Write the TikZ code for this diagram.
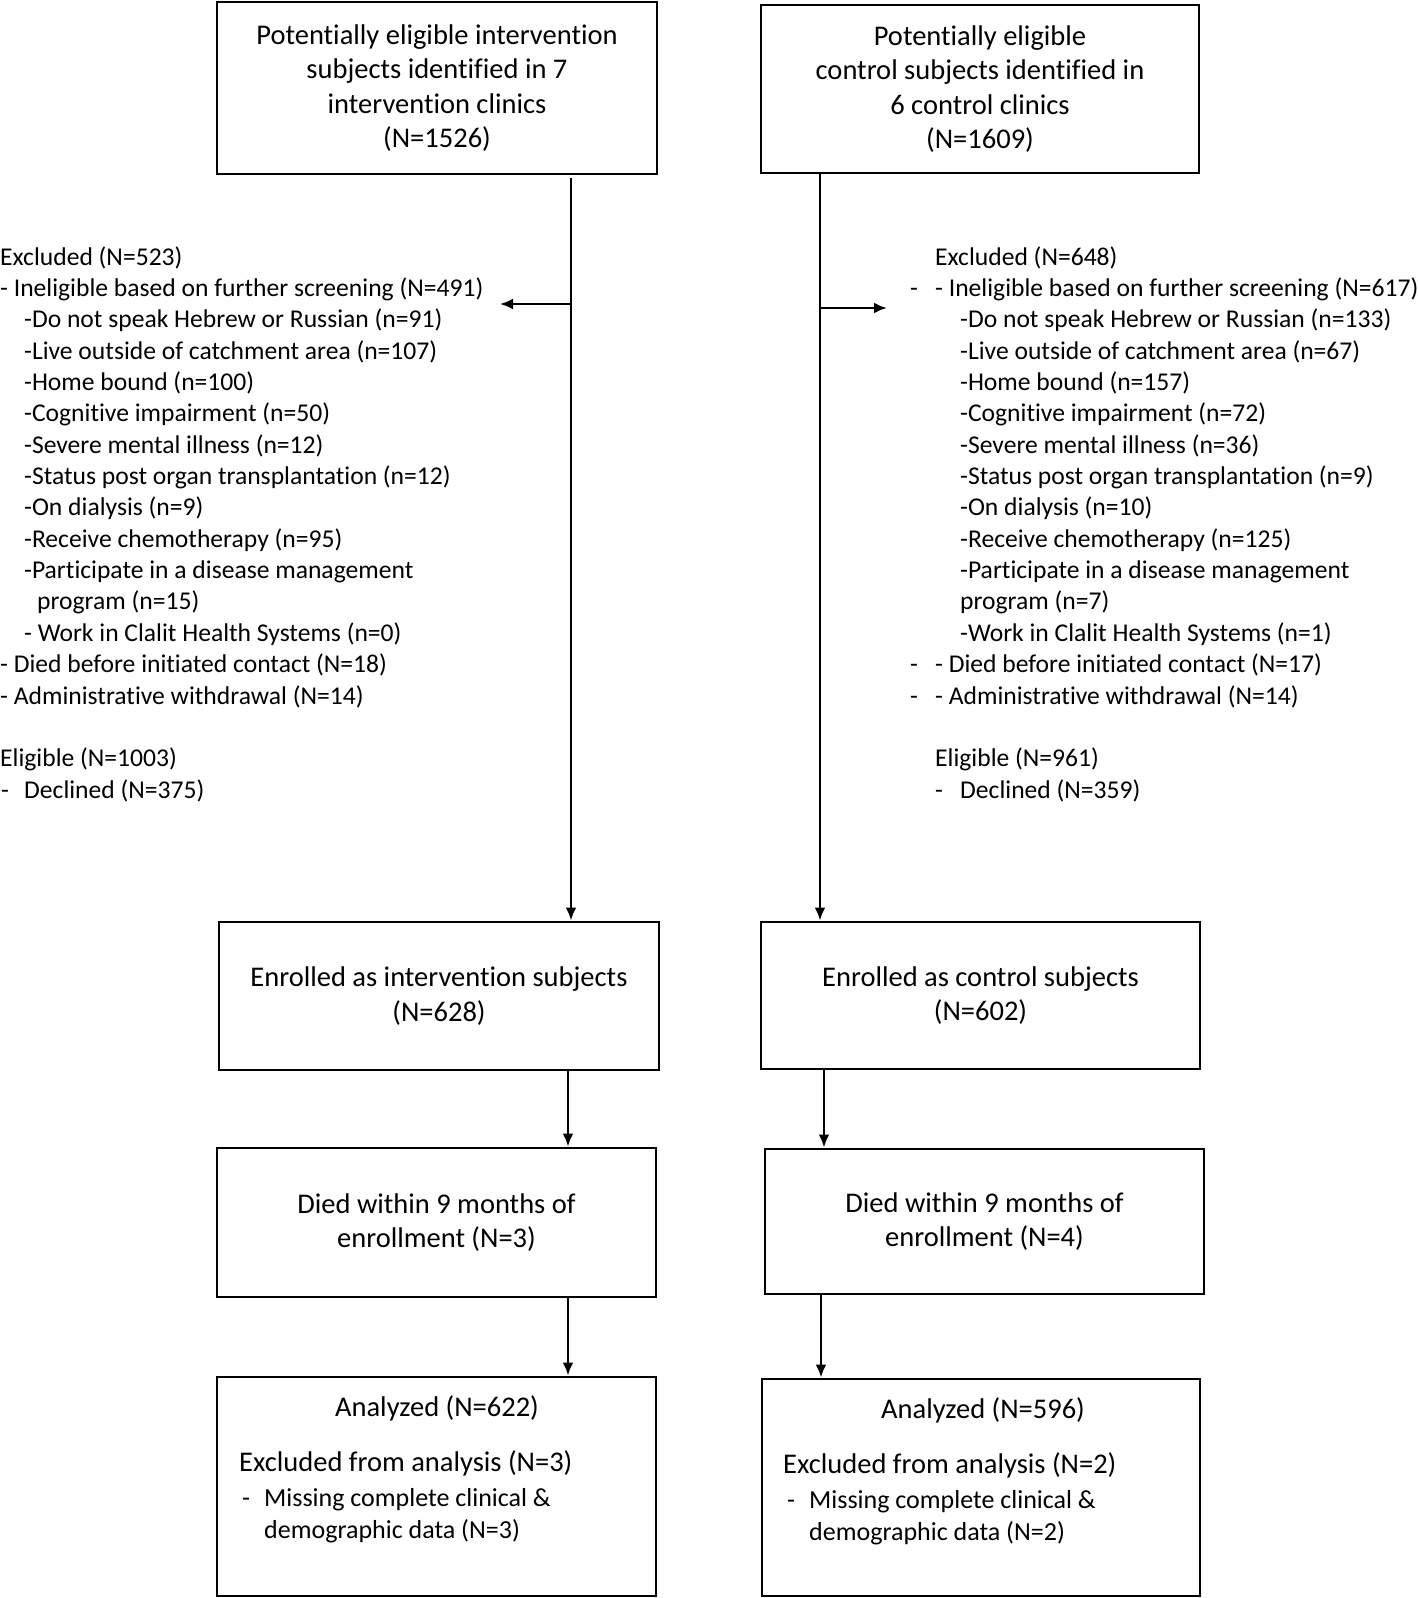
\documentclass[tikz,border=0pt]{standalone}
\usepackage{fontspec}
\setmainfont{Carlito}[Ligatures=CommonOff]
\usetikzlibrary{arrows.meta}
\newcommand\lstfont{\fontsize{25.6}{31.36}\selectfont}
\newcommand\smfont{\fontsize{26}{31.36}\selectfont}
\newcommand\boxfont{\fontsize{28.5}{34.6}\selectfont}
\begin{document}
\begin{tikzpicture}[x=1pt,y=-1pt,
  box/.style={draw, line width=2.9pt, inner sep=0pt, align=center, font=\boxfont},
  lst/.style={anchor=base west, inner sep=0pt, font=\lstfont},
  inb/.style={anchor=base west, inner sep=0pt, font=\smfont},
  inbig/.style={anchor=base west, inner sep=0pt, font=\boxfont},
  arr/.style={line width=2.7pt, -{Latex[length=13pt,width=11pt]}}]
\useasboundingbox (0,0) rectangle (1418,1598);
\fill[white] (0,0) rectangle (1418,1598);
\newcommand\lline[4]{\node[lst] (#1) at (#2,{265+31.36*#3}) {#4};}
% boxes
\node[box, minimum width=440pt, minimum height=172pt] (A) at (437,88)
  {Potentially eligible intervention\\subjects identified in 7\\intervention clinics\\(N=1526)};
\node[box, minimum width=438pt, minimum height=168pt] (B) at (980,89)
  {Potentially eligible\\control subjects identified in\\6 control clinics\\(N=1609)};
\node[box, minimum width=440pt, minimum height=148pt] (C) at (439,996)
  {Enrolled as intervention subjects\\(N=628)};
\node[box, minimum width=439pt, minimum height=147pt] (D) at (980.5,995.5)
  {Enrolled as control subjects\\(N=602)};
\node[box, minimum width=439pt, minimum height=149pt] (E) at (436.5,1222.5)
  {Died within 9 months of\\enrollment (N=3)};
\node[box, minimum width=439pt, minimum height=145pt] (F) at (984.5,1221.5)
  {Died within 9 months of\\enrollment (N=4)};
\node[box, minimum width=439pt, minimum height=219pt] (G) at (436.5,1486.5) {};
\node[box, minimum width=438pt, minimum height=217pt] (H) at (981,1487.5) {};
% text inside G
\node[anchor=base, inner sep=0pt, font=\boxfont] (g1) at (437,1416) {Analyzed (N=622)};
\node[inbig] (g2) at (239,1471) {Excluded from analysis (N=3)};
\node[inb] (g3) at (242,1506) {-};
\node[inb] (g4) at (264,1506) {Missing complete clinical \&};
\node[inb] (g5) at (264,1538) {demographic data (N=3)};
% text inside H
\node[anchor=base, inner sep=0pt, font=\boxfont] (h1) at (983,1418) {Analyzed (N=596)};
\node[inbig] (h2) at (783,1473) {Excluded from analysis (N=2)};
\node[inb] (h3) at (787,1508) {-};
\node[inb] (h4) at (809,1508) {Missing complete clinical \&};
\node[inb] (h5) at (809,1540) {demographic data (N=2)};
% left list
\lline{l0}{0}{0}{Excluded (N=523)}
\lline{l1}{0}{1}{- Ineligible based on further screening (N=491)}
\lline{l2}{24}{2}{-Do not speak Hebrew or Russian (n=91)}
\lline{l3}{24}{3}{-Live outside of catchment area (n=107)}
\lline{l4}{24}{4}{-Home bound (n=100)}
\lline{l5}{24}{5}{-Cognitive impairment (n=50)}
\lline{l6}{24}{6}{-Severe mental illness (n=12)}
\lline{l7}{24}{7}{-Status post organ transplantation (n=12)}
\lline{l8}{24}{8}{-On dialysis (n=9)}
\lline{l9}{24}{9}{-Receive chemotherapy (n=95)}
\lline{l10}{24}{10}{-Participate in a disease management}
\lline{l11}{37}{11}{program (n=15)}
\lline{l12}{24}{12}{- Work in Clalit Health Systems (n=0)}
\lline{l13}{0}{13}{- Died before initiated contact (N=18)}
\lline{l14}{0}{14}{- Administrative withdrawal (N=14)}
\lline{l16}{0}{16}{Eligible (N=1003)}
\lline{l17a}{1}{17}{-}
\lline{l17}{24}{17}{Declined (N=375)}
% right list
\lline{r0}{935}{0}{Excluded (N=648)}
\lline{r1a}{910}{1}{-}
\lline{r1}{935}{1}{- Ineligible based on further screening (N=617)}
\lline{r2}{960}{2}{-Do not speak Hebrew or Russian (n=133)}
\lline{r3}{960}{3}{-Live outside of catchment area (n=67)}
\lline{r4}{960}{4}{-Home bound (n=157)}
\lline{r5}{960}{5}{-Cognitive impairment (n=72)}
\lline{r6}{960}{6}{-Severe mental illness (n=36)}
\lline{r7}{960}{7}{-Status post organ transplantation (n=9)}
\lline{r8}{960}{8}{-On dialysis (n=10)}
\lline{r9}{960}{9}{-Receive chemotherapy (n=125)}
\lline{r10}{960}{10}{-Participate in a disease management}
\lline{r11}{960}{11}{program (n=7)}
\lline{r12}{960}{12}{-Work in Clalit Health Systems (n=1)}
\lline{r13a}{910}{13}{-}
\lline{r13}{935}{13}{- Died before initiated contact (N=17)}
\lline{r14a}{910}{14}{-}
\lline{r14}{935}{14}{- Administrative withdrawal (N=14)}
\lline{r16}{935}{16}{Eligible (N=961)}
\lline{r17a}{935}{17}{-}
\lline{r17}{960}{17}{Declined (N=359)}
% connectors
\coordinate (tL) at (571,178);
\coordinate (tR) at (820,173);
\coordinate (sL) at (571,304);
\coordinate (eL) at (500,304);
\coordinate (sR) at (820,308);
\coordinate (eR) at (887,308);
\coordinate (cL) at (568,0);
\coordinate (cR1) at (824,0);
\coordinate (cR2) at (821,0);
\draw[arr] (tL) -- (tL |- C.north);
\draw[arr] (tR) -- (tR |- D.north);
\draw[arr] (sL) -- (eL);
\draw[arr] (sR) -- (eR);
\draw[arr] (C.south -| cL) -- (E.north -| cL);
\draw[arr] (E.south -| cL) -- (G.north -| cL);
\draw[arr] (D.south -| cR1) -- (F.north -| cR1);
\draw[arr] ([yshift=2pt]F.south -| cR2) -- (H.north -| cR2);
\end{tikzpicture}
\end{document}
